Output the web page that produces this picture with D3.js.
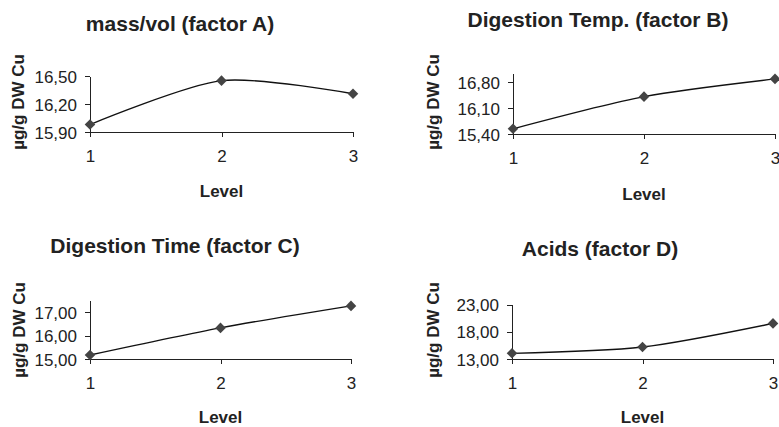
<!DOCTYPE html>
<html>
<head>
<meta charset="utf-8">
<script src="https://cdn.jsdelivr.net/npm/d3@7"></script>
<style>
  body { margin: 0; background: #fff; }
  text { font-family: "Liberation Sans", Arial, sans-serif; fill: #222; }
  .title { font-size: 21px; font-weight: bold; }
  .axisLabel { font-size: 17px; font-weight: bold; }
</style>
</head>
<body>
<div id="chart"></div>
<script>
// levels on the x axis (same for all four panels)
var levels = [1, 2, 3];

// chart titles
var titles = ["mass/vol (factor A)", "Digestion Temp. (factor B)",
  "Digestion Time (factor C)", "Acids (factor D)"];

// mean response per level, µg/g DW Cu
var massVol = [15.98, 16.45, 16.31];
var digTemp = [15.54, 16.41, 16.89];
var digTime = [15.17, 16.33, 17.27];
var acids = [14.04, 15.19, 19.53];

// y tick values and axis ranges
var ticksA = [15.9, 16.2, 16.5];
var ticksB = [15.4, 16.1, 16.8];
var ticksC = [15, 16, 17];
var ticksD = [13, 18, 23];
var domainA = [15.9, 16.5];
var domainB = [15.4, 17.05];
var domainC = [15, 17.5];
var domainD = [13, 23];

var yTitle = "µg/g DW Cu";
var xTitle = "Level";

var width = 779;
var height = 427;

var svg = d3.select("#chart")
  .append("svg")
  .attr("width", width)
  .attr("height", height);

var locale = d3.formatLocale({ decimal: ",", thousands: ".", grouping: [3], currency: ["", ""] });
var fmt = locale.format(".2f");

// layout of each panel (pixel boxes)
var panels = [
  { data: massVol, ticks: ticksA, domain: domainA, title: titles[0],
    x0: 90, x1: 353, yTop: 76, yBot: 132, titleX: 180, titleY: 31, yTitleX: 24, yTitleY: 102, levelY: 197 },
  { data: digTemp, ticks: ticksB, domain: domainB, title: titles[1],
    x0: 513, x1: 775, yTop: 73, yBot: 134, titleX: 598, titleY: 27, yTitleX: 439, yTitleY: 102, levelY: 200 },
  { data: digTime, ticks: ticksC, domain: domainC, title: titles[2],
    x0: 90, x1: 351, yTop: 300.5, yBot: 359, titleX: 175, titleY: 253, yTitleX: 25, yTitleY: 330, levelY: 423 },
  { data: acids, ticks: ticksD, domain: domainD, title: titles[3],
    x0: 512, x1: 773, yTop: 304.5, yBot: 359, titleX: 600, titleY: 256, yTitleX: 439, yTitleY: 330, levelY: 423 }
];

panels.forEach(function (p) {
  var g = svg.append("g");

  var x = d3.scaleLinear()
    .domain([1, 3])
    .range([p.x0, p.x1]);

  var y = d3.scaleLinear()
    .domain(p.domain)
    .range([p.yBot, p.yTop]);

  var xAxis = g.append("g")
    .attr("transform", "translate(0," + p.yBot + ")")
    .call(d3.axisBottom(x).tickValues(levels).tickFormat(d3.format("d")).tickSizeInner(5).tickSizeOuter(0).tickPadding(13));

  var yAxis = g.append("g")
    .attr("transform", "translate(" + p.x0 + ",0)")
    .call(d3.axisLeft(y).tickValues(p.ticks).tickFormat(fmt).tickSizeInner(5).tickSizeOuter(0).tickPadding(8));

  [xAxis, yAxis].forEach(function (a) {
    a.attr("font-size", 17).attr("font-family", "Liberation Sans, Arial, sans-serif");
    a.selectAll("path, line").attr("stroke", "#222").attr("stroke-width", 1).attr("shape-rendering", "crispEdges");
    a.selectAll("text").attr("fill", "#222").style("font-size", "17px");
  });
  yAxis.selectAll(".tick text").attr("dy", "0.36em");

  g.append("path")
    .datum(p.data)
    .attr("fill", "none")
    .attr("stroke", "#111")
    .attr("stroke-width", 1.4)
    .attr("d", d3.line()
      .x(function (d, i) { return x(levels[i]); })
      .y(function (d) { return y(d); })
      .curve(d3.curveCardinal.tension(0.2))
    );

  g.selectAll(".pt")
    .data(p.data)
    .enter()
    .append("path")
    .attr("class", "pt")
    .attr("fill", "#444")
    .attr("transform", function (d, i) { return "translate(" + x(levels[i]) + "," + y(d) + ") rotate(45)"; })
    .attr("d", d3.symbol().type(d3.symbolSquare).size(56));

  g.append("text")
    .attr("class", "title")
    .attr("x", p.titleX)
    .attr("y", p.titleY)
    .attr("text-anchor", "middle")
    .text(p.title);

  g.append("text")
    .attr("class", "axisLabel")
    .attr("x", (p.x0 + p.x1) / 2)
    .attr("y", p.levelY)
    .attr("text-anchor", "middle")
    .text(xTitle);

  g.append("text")
    .attr("class", "axisLabel")
    .attr("transform", "translate(" + p.yTitleX + "," + p.yTitleY + ") rotate(-90)")
    .attr("text-anchor", "middle")
    .text(yTitle);
});
</script>
</body>
</html>
